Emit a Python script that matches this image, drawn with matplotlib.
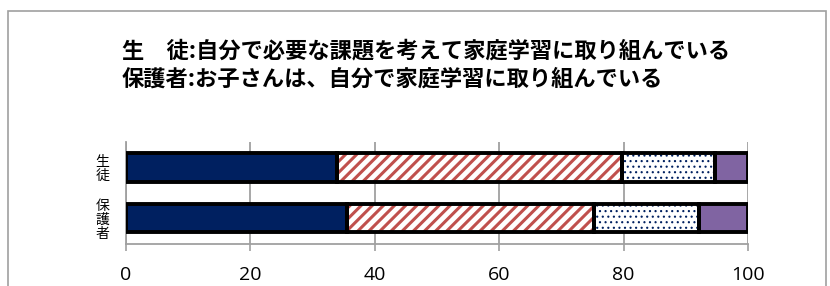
import matplotlib
matplotlib.use("Agg")
import matplotlib.pyplot as plt
from matplotlib.patches import Rectangle

plt.rcParams['font.family'] = ['Noto Sans CJK JP', 'DejaVu Sans']

# data
groups = ['保\n護\n者', '生\n徒']
s1 = [35.5, 34.0]
s2 = [39.8, 45.7]
s3 = [16.8, 15.0]
s4 = [7.9, 5.3]
xticks = [0, 20, 40, 60, 80, 100]
title = '生\u3000徒:自分で必要な課題を考えて家庭学習に取り組んでいる\n保護者:お子さんは、自分で家庭学習に取り組んでいる'

fig = plt.figure(figsize=(8.3, 2.86), dpi=100)
ax = fig.add_axes([0.1518, 0.147, 0.7494, 0.3565])

pos = [0, 1]
h = 0.55
left = [0, 0]
series = [
    (s1, dict(color='#002060'), 1.0),
    (s2, dict(facecolor='white', edgecolor='#c0504d', hatch='///'), 2.2),
    (s3, dict(facecolor='white', edgecolor='#002060', hatch='...'), 0.8),
    (s4, dict(color='#8064a2'), 1.0),
]
for vals, style, hlw in series:
    with plt.rc_context({'hatch.linewidth': hlw}):
        ax.barh(pos, vals, left=left, height=h, linewidth=0, zorder=2, **style)
    ax.barh(pos, vals, left=left, height=h, fill=False, edgecolor='black',
            linewidth=2.8, zorder=3)
    left = [a + b for a, b in zip(left, vals)]

ax.set_xlim(0, 100)
ax.set_ylim(-0.5, 1.5)
ax.set_xticks(xticks)
ax.set_xticklabels([str(t) for t in xticks], family='Open Sans', fontsize=14)
ax.set_yticks(pos)
ax.set_yticklabels(groups, fontsize=10, linespacing=1.0)
ax.tick_params(axis='y', length=0, pad=12)
ax.tick_params(axis='x', length=5, width=1.2, color='#a0a0a0', pad=11)
ax.grid(axis='x', color='#a0a0a0', linewidth=1.3, zorder=0)
ax.set_axisbelow(True)
for s in ['top', 'right']:
    ax.spines[s].set_visible(False)
for s in ['left', 'bottom']:
    ax.spines[s].set_color('#a0a0a0')
    ax.spines[s].set_linewidth(1.3)

fig.text(0.147, 0.773, title, fontsize=16, fontweight='bold', ha='left',
         va='center', linespacing=1.3)

fig.patches.append(Rectangle((0.0096, -0.1), 0.985, 1.062, transform=fig.transFigure,
                             fill=False, edgecolor='#a0a0a0', linewidth=1.2))

fig.savefig('out.png', dpi=100)
